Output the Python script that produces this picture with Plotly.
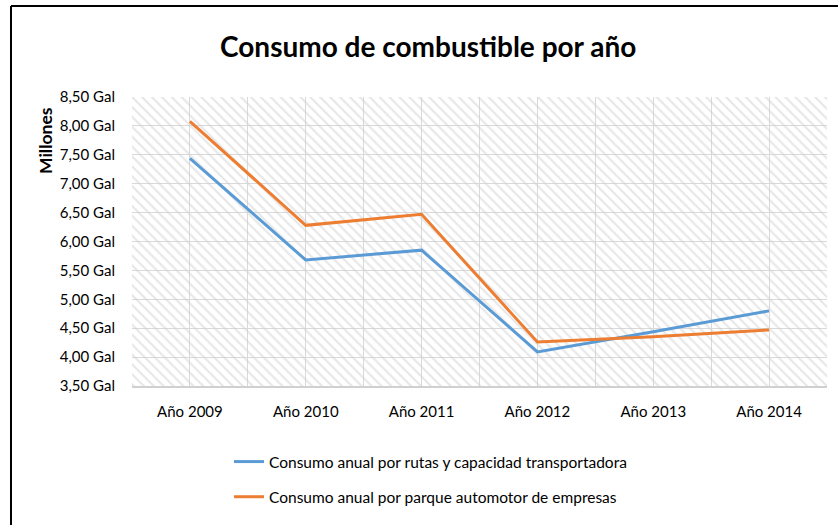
import plotly.graph_objects as go

years = ["Año 2009", "Año 2010", "Año 2011", "Año 2012", "Año 2013", "Año 2014"]
rutas = [7.44, 5.68, 5.85, 4.09, 4.44, 4.80]
parque = [8.08, 6.28, 6.47, 4.26, 4.35, 4.47]
series_names = [
    "Consumo anual por rutas y capacidad transportadora",
    "Consumo anual por parque automotor de empresas",
]
y_min, y_max, y_step = 3.5, 8.5, 0.5

FONT = "Lato"
xpos = list(range(len(years)))
x_lo, x_hi = -0.5, len(years) - 0.5

fig = go.Figure()

# hatched plot-area background
fig.add_trace(go.Scatter(
    x=[x_lo, x_hi, x_hi, x_lo, x_lo], y=[y_min, y_min, y_max, y_max, y_min],
    mode="lines", line=dict(width=0), fill="toself",
    fillcolor="rgba(0,0,0,0)",
    fillpattern=dict(shape="\\", fgcolor="#d0d0d0", bgcolor="rgba(0,0,0,0)",
                     size=7, solidity=0.32),
    showlegend=False, hoverinfo="skip",
))

fig.add_trace(go.Scatter(x=xpos, y=rutas, mode="lines", name=series_names[0],
                         line=dict(color="#5B9BD5", width=3), legendgroup="a"))
fig.add_trace(go.Scatter(x=xpos, y=parque, mode="lines", name=series_names[1],
                         line=dict(color="#ED7D31", width=3), legendgroup="b"))

W, H = 838, 525
L, R, T, B = 132, 11, 97, 139
pw, ph = W - L - R, H - T - B

def px_x(x):
    return (x - L) / pw

def px_y(y):
    return 1 - (y - T) / ph

fig.update_layout(
    width=W, height=H,
    margin=dict(l=L, r=R, t=T, b=B, autoexpand=False),
    paper_bgcolor="white", plot_bgcolor="white",
    separators=",.",
    font=dict(family=FONT, size=15, color="#000000"),
    title=dict(text="<b>Consumo de combustible por año</b>", x=0.511, xref="container",
               xanchor="center", y=1 - 47 / H, yanchor="middle",
               font=dict(family=FONT, size=28, color="#000000")),
    xaxis=dict(range=[x_lo, x_hi], tickvals=xpos, ticktext=years,
               showgrid=True, gridcolor="#d9d9d9", gridwidth=1,
               minor=dict(tickvals=[i - 0.5 for i in range(len(years) + 1)],
                          showgrid=True, gridcolor="#d9d9d9", gridwidth=1, ticks=""),
               showline=True, linecolor="#d0d0d0", linewidth=2,
               ticks="", zeroline=False, fixedrange=True, automargin=False,
               ticklabelstandoff=11,
               tickfont=dict(family=FONT, size=15)),
    yaxis=dict(range=[y_min, y_max], dtick=y_step, tick0=y_min,
               tickformat=".2f", ticksuffix=" Gal",
               showgrid=True, gridcolor="#d9d9d9", gridwidth=1,
               showline=False, ticks="", zeroline=False, fixedrange=True,
               automargin=False, ticklabelstandoff=16,
               tickfont=dict(family=FONT, size=15)),
    legend=dict(x=px_x(229), y=px_y(445), xanchor="left", yanchor="top",
                orientation="v", tracegroupgap=12, bgcolor="rgba(0,0,0,0)",
                font=dict(family=FONT, size=15.5)),
    showlegend=True,
    annotations=[dict(text="<b>Millones</b>", textangle=-90, x=px_x(45), y=px_y(141),
                      xref="paper", yref="paper", showarrow=False,
                      xanchor="center", yanchor="middle",
                      font=dict(family=FONT, size=17.5, color="#000000"))],
    shapes=[
        dict(type="line", xref="paper", yref="paper", x0=px_x(11), x1=px_x(W + 5),
             y0=px_y(6), y1=px_y(6), line=dict(color="#000000", width=2)),
        dict(type="line", xref="paper", yref="paper", x0=px_x(11), x1=px_x(11),
             y0=px_y(6), y1=px_y(H + 5), line=dict(color="#000000", width=2)),
    ],
)

fig.write_html("out.html", config={"displayModeBar": False},
               post_script="document.body.style.margin='0';document.body.style.overflow='hidden';")
